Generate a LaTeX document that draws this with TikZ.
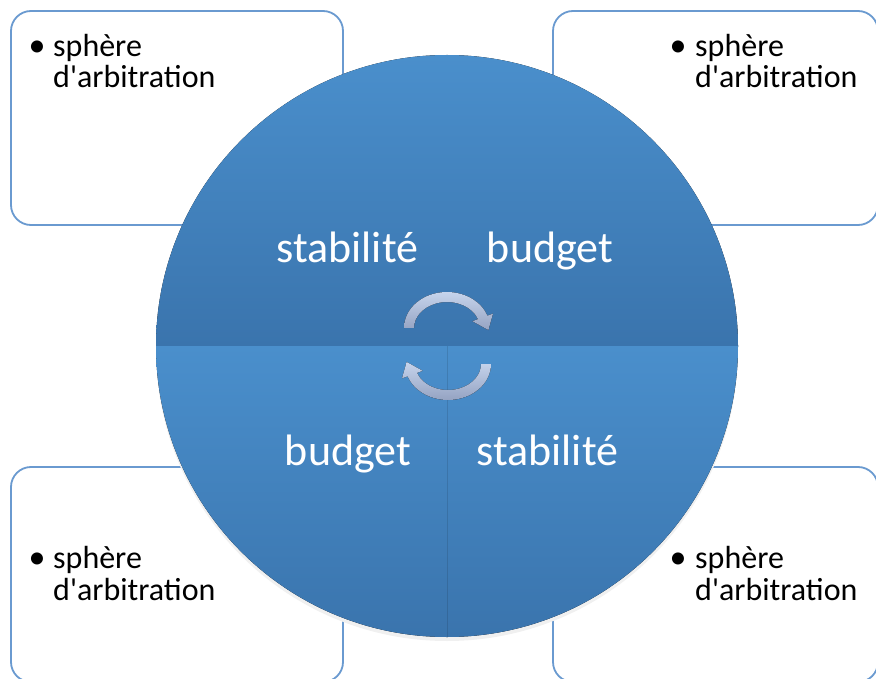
\documentclass[tikz,border=0pt]{standalone}
\usepackage{fontspec}
\setmainfont{Carlito}
\definecolor{boxline}{HTML}{6A9AD0}
\definecolor{disctop}{HTML}{4A8FCC}
\definecolor{discbot}{HTML}{3A74AD}
\definecolor{arrtop}{HTML}{C6D4EC}
\definecolor{arrbot}{HTML}{95A3C2}
\tikzset{
  infobox/.style={draw=boxline, line width=1.8pt, rounded corners=20pt, fill=white, inner sep=0pt},
  quarter/.style={top color=disctop, bottom color=discbot},
  bigword/.style={text=white, font=\fontsize{44}{44}\selectfont, inner sep=0pt, anchor=base},
  smallword/.style={font=\fontsize{32}{32}\selectfont, inner sep=0pt, anchor=base west},
  bulletmark/.style={font=\fontsize{34}{34}\selectfont, inner sep=0pt, anchor=base},
  cyclearrow/.style={top color=arrtop, bottom color=arrbot}
}
\begin{document}
\begin{tikzpicture}[x=1pt, y=-1pt]
  \useasboundingbox (0,0) rectangle (876,679);
  \node[infobox, minimum width=332pt, minimum height=214pt] (boxtl) at (177,118) {};
  \node[infobox, minimum width=325pt, minimum height=214pt] (boxtr) at (715.5,118) {};
  \node[infobox, minimum width=332pt, minimum height=215pt] (boxbl) at (177,574.5) {};
  \node[infobox, minimum width=325pt, minimum height=215pt] (boxbr) at (715.5,574.5) {};

  \node[bulletmark] (dottl) at (37,57) {•};
  \node[smallword] (sphtl) at (53,57) {sphère};
  \node[smallword] (arbtl) at (53,88) {d\textquotesingle arbitration};
  \node[bulletmark] (dottr) at (678,57) {•};
  \node[smallword] (sphtr) at (695,57) {sphère};
  \node[smallword] (arbtr) at (695,88) {d\textquotesingle arbitration};
  \node[bulletmark] (dotbl) at (37,568) {•};
  \node[smallword] (sphbl) at (53,568) {sphère};
  \node[smallword] (arbbl) at (53,600) {d\textquotesingle arbitration};
  \node[bulletmark] (dotbr) at (678,568) {•};
  \node[smallword] (sphbr) at (695,568) {sphère};
  \node[smallword] (arbbr) at (695,600) {d\textquotesingle arbitration};

  \fill[black!6] (447,350) circle[radius=291];
  \fill[quarter] (447,346) -- (156,346) arc[start angle=180, end angle=270, radius=291] -- cycle;
  \fill[quarter] (447,346) -- (447,55) arc[start angle=270, end angle=360, radius=291] -- cycle;
  \fill[quarter] (447,346) -- (738,346) arc[start angle=0, end angle=90, radius=291] -- cycle;
  \fill[quarter] (447,346) -- (447,637) arc[start angle=90, end angle=180, radius=291] -- cycle;

  \fill[cyclearrow] (404,328) arc[start angle=180, end angle=340, x radius=43, y radius=36]
    -- (493,313.6) -- (488.4,330.1) -- (472.4,321.2) -- (478,319.1)
    arc[start angle=340, end angle=180, x radius=33, y radius=26] -- cycle;
  \fill[cyclearrow] (491,364) arc[start angle=0, end angle=160, x radius=43, y radius=36]
    -- (402,378.4) -- (406.6,361.9) -- (422.6,370.8) -- (417,372.9)
    arc[start angle=160, end angle=0, x radius=33, y radius=26] -- cycle;

  \node[bigword] (stabtl) at (347.5,262) {stabilité};
  \node[bigword] (budtr) at (550,262) {budget};
  \node[bigword] (budbl) at (348,465) {budget};
  \node[bigword] (stabbr) at (547.5,465) {stabilité};
\end{tikzpicture}
\end{document}
